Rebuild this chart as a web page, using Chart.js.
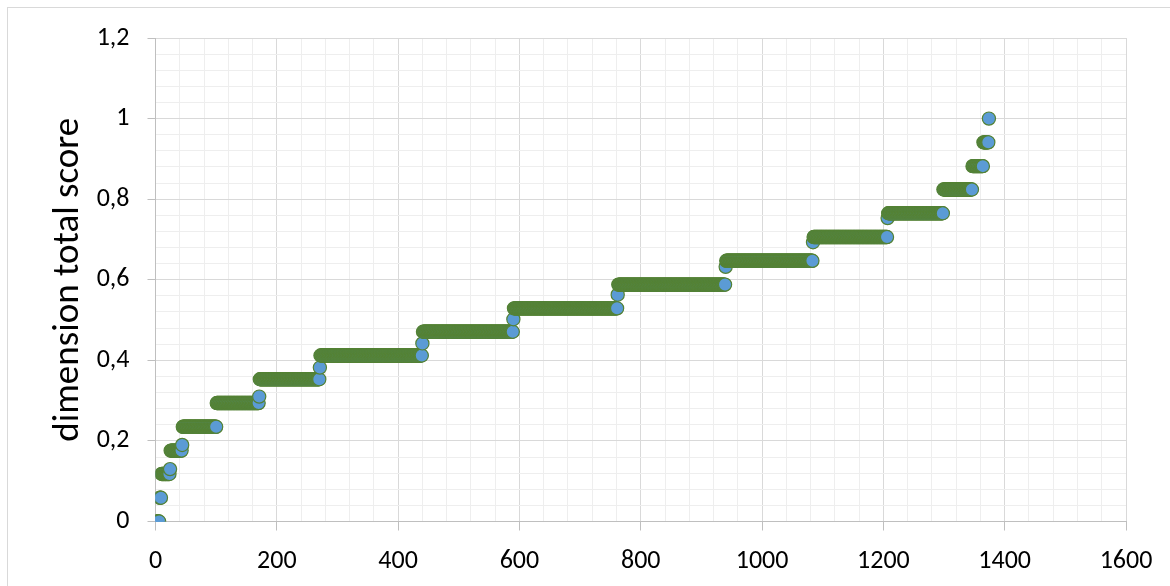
<!DOCTYPE html>
<html>
<head>
<meta charset="utf-8">
<script src="https://cdn.jsdelivr.net/npm/chart.js@4"></script>
<style>
  html, body { margin: 0; padding: 0; background: #ffffff; }
  #wrap { position: relative; width: 1170px; height: 586px; }
</style>
</head>
<body>
<div id="wrap"><canvas id="c" width="1170" height="586"></canvas></div>
<script>
// Score levels (sorted), and the rank (x) of the last point at each level
const scoreLevels = [0, 0.059, 0.118, 0.13, 0.176, 0.19, 0.235, 0.294, 0.31, 0.353, 0.382, 0.412, 0.442,
  0.471, 0.502, 0.529, 0.563, 0.588, 0.632, 0.647, 0.693, 0.706, 0.753, 0.765, 0.824, 0.882, 0.941, 1];
const lastRank = [6, 9, 23, 24, 43, 44, 100, 170, 171, 270, 271, 439, 440,
  589, 590, 761, 762, 939, 940, 1083, 1084, 1206, 1207, 1298, 1346, 1364, 1373, 1374];

// Axis tick settings
const xMin = 0, xMax = 1600, xMinorStep = 40, xMajorStep = 200;
const yMin = 0, yMax = 1.2, yMinorStep = 0.04, yMajorStep = 0.2;
const yTitle = 'dimension total score';

// Build the sorted points: every rank between the previous level's last rank and this one gets that level
const points = [];
let rank = 1;
for (let i = 0; i < scoreLevels.length; i++) {
  for (; rank <= lastRank[i]; rank++) points.push({ x: rank, y: scoreLevels[i] });
}

const FONT = "Carlito, Lato, 'Open Sans', sans-serif";
const isMajorX = v => Math.round(v) % xMajorStep === 0;
const isMajorY = v => Math.round(v * 100) % Math.round(yMajorStep * 100) === 0;

const frame = {
  id: 'frame',
  beforeDraw(chart) {
    const ctx = chart.ctx;
    ctx.save();
    ctx.fillStyle = '#ffffff';
    ctx.fillRect(0, 0, chart.width, chart.height);
    ctx.strokeStyle = '#d9d9d9';
    ctx.lineWidth = 1;
    ctx.strokeRect(7.5, 7.5, 1200, 700);
    ctx.restore();
  }
};

new Chart(document.getElementById('c'), {
  type: 'scatter',
  data: {
    datasets: [{
      data: points,
      pointRadius: 6.6,
      pointHoverRadius: 6.6,
      pointBorderWidth: 1.2,
      pointBackgroundColor: '#5B9BD5',
      pointBorderColor: '#548235',
      showLine: false
    }]
  },
  options: {
    responsive: false,
    animation: false,
    devicePixelRatio: 1,
    layout: { padding: { left: 0, right: 44, top: 38, bottom: 0 } },
    plugins: { legend: { display: false }, tooltip: { enabled: false } },
    scales: {
      x: {
        type: 'linear',
        min: xMin, max: xMax,
        afterFit(s) { s.height = 64.5; },
        ticks: {
          stepSize: xMinorStep,
          autoSkip: false,
          maxRotation: 0,
          padding: 15,
          color: '#000000',
          font: { family: FONT, size: 26 },
          callback: v => isMajorX(v) ? String(Math.round(v)) : ''
        },
        grid: {
          color: c => isMajorX(c.tick.value) ? '#d9d9d9' : '#eeeeee',
          tickColor: c => isMajorX(c.tick.value) ? '#bfbfbf' : 'rgba(0,0,0,0)',
          tickLength: 9,
          lineWidth: 1
        },
        border: { color: '#bfbfbf', width: 1 }
      },
      y: {
        type: 'linear',
        min: yMin, max: yMax,
        afterFit(s) { s.width = 155.5; },
        title: {
          display: true,
          text: yTitle,
          color: '#000000',
          font: { family: FONT, size: 37 },
          padding: { top: 47, bottom: 0 }
        },
        ticks: {
          stepSize: yMinorStep,
          autoSkip: false,
          padding: 18,
          color: '#000000',
          font: { family: FONT, size: 26 },
          callback: v => isMajorY(v) ? String(Math.round(v * 10) / 10).replace('.', ',') : ''
        },
        grid: {
          color: c => isMajorY(c.tick.value) ? '#d9d9d9' : '#eeeeee',
          tickColor: c => isMajorY(c.tick.value) ? '#bfbfbf' : 'rgba(0,0,0,0)',
          tickLength: 8,
          lineWidth: 1
        },
        border: { color: '#bfbfbf', width: 1 }
      }
    }
  },
  plugins: [frame]
});
</script>
</body>
</html>
